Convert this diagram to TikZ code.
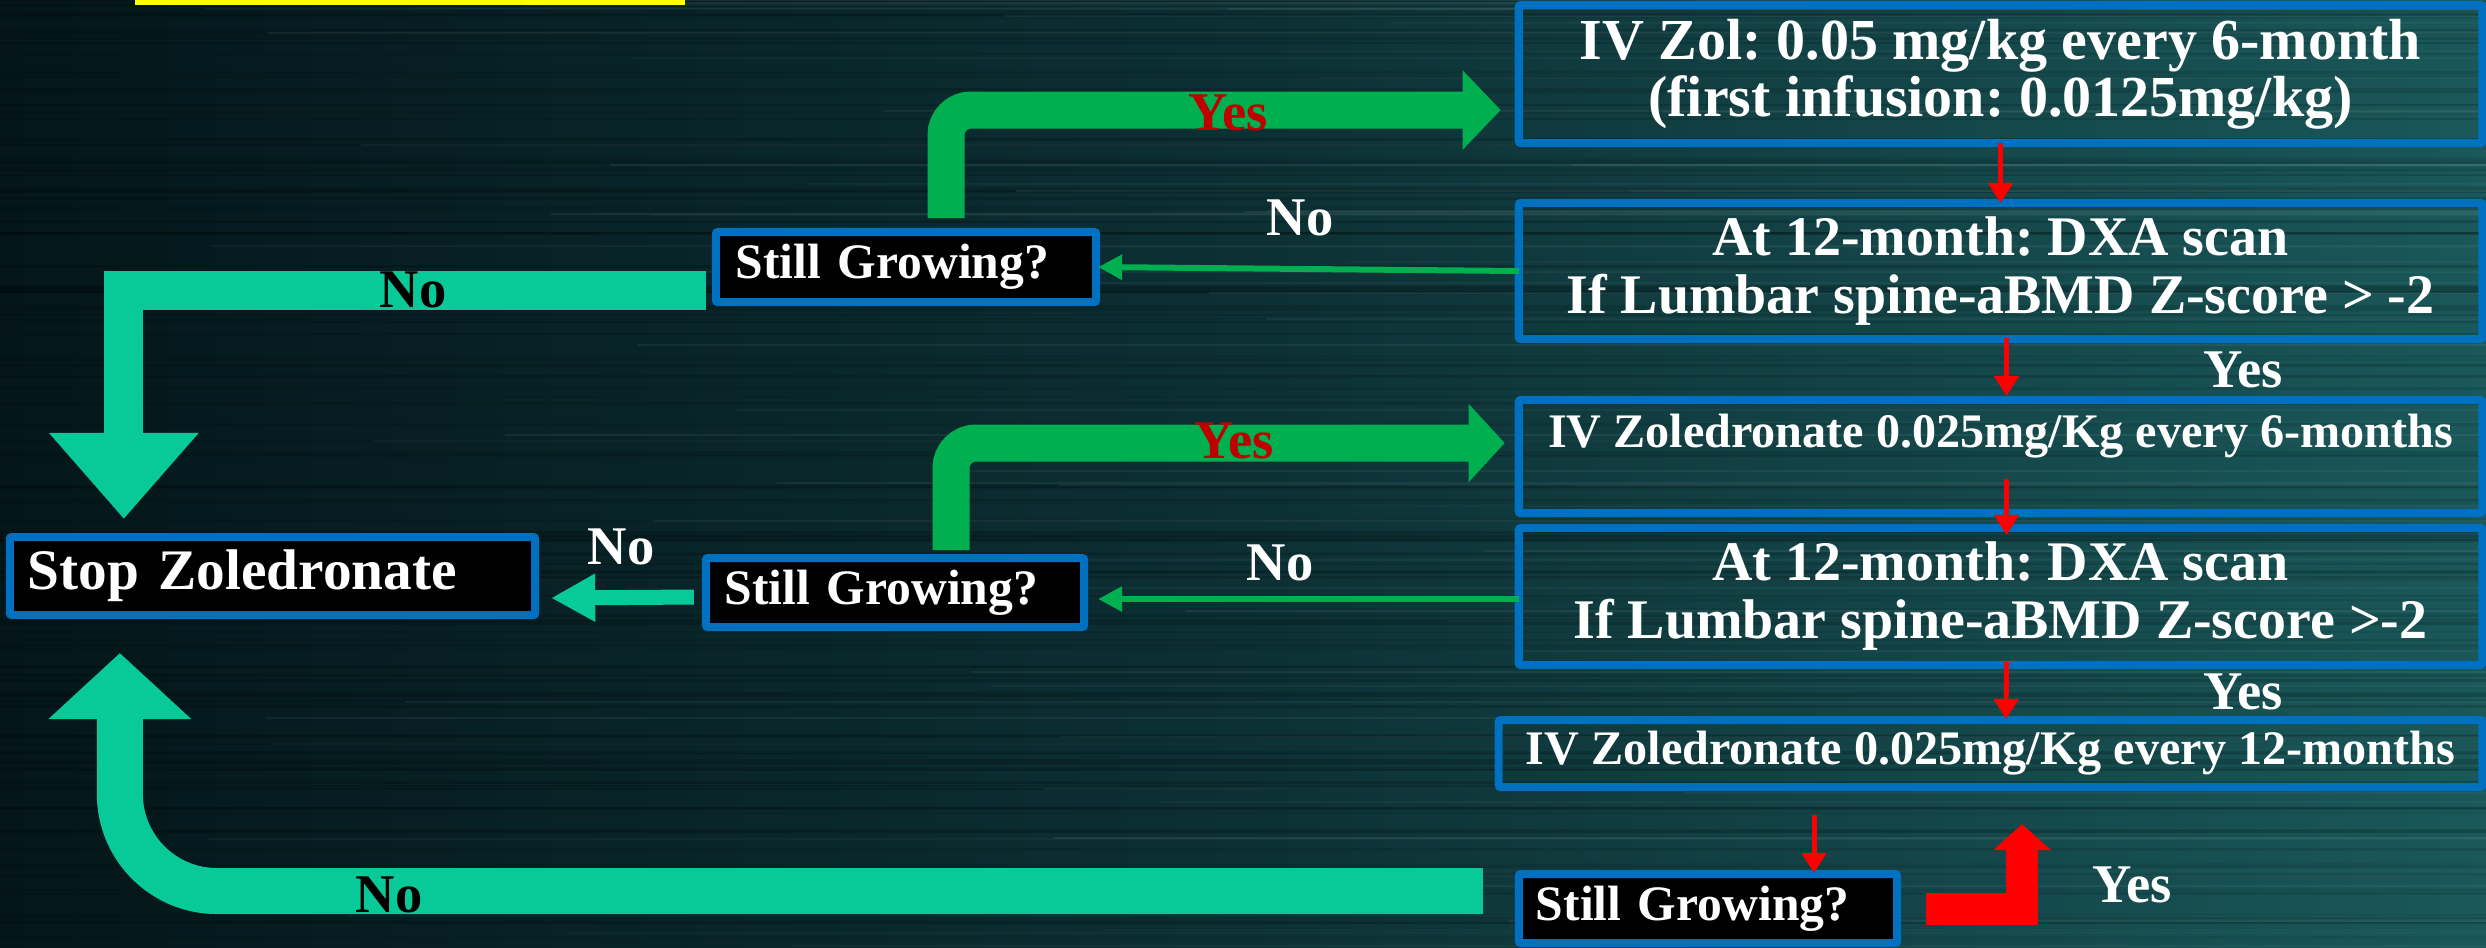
\documentclass[tikz,border=0pt]{standalone}
\usepackage{fontspec}
\setmainfont{Liberation Serif}
\usetikzlibrary{arrows.meta}
\definecolor{bluebd}{RGB}{0,112,192}
\definecolor{yesgreen}{RGB}{0,176,80}
\definecolor{noteal}{RGB}{8,202,152}
\definecolor{darkred}{RGB}{192,0,0}
\definecolor{bgleft}{RGB}{4,22,26}
\definecolor{bgmid}{RGB}{12,48,52}
\definecolor{bgright}{RGB}{26,88,90}
\definecolor{hlyellow}{RGB}{255,255,0}
\frenchspacing
\begin{document}
\begin{tikzpicture}[x=0.01cm,y=-0.01cm,
  flowbox/.style={draw=bluebd, line width=0.08cm, rectangle, rounded corners=0.02cm,
    inner sep=0pt, outer sep=0pt, text=white},
  qbox/.style={flowbox, fill=black, align=left, minimum height=0.69cm,
    font=\fontsize{14.1}{16}\selectfont\bfseries},
  thinred/.style={draw=red, line width=0.05cm, -{Triangle[width=0.24cm,length=0.2cm]}},
  thingreen/.style={draw=yesgreen, line width=0.06cm, -{Triangle[width=0.24cm,length=0.24cm]}},
  lbl/.style={font=\fontsize{15.5}{18}\selectfont\bfseries, inner sep=0pt, anchor=base},
]
\useasboundingbox (0,0) rectangle (2486,947);
% background
\shade[left color=bgleft, right color=bgright, middle color=bgmid] (0,0) rectangle (2486,947);
\pgfmathsetseed{11}
\foreach \i in {1,...,140}{
  \pgfmathsetmacro{\yy}{rnd*947}
  \pgfmathsetmacro{\op}{0.05+rnd*0.12}
  \draw[black, opacity=\op, line width=0.025cm] (0,\yy) -- (2486,\yy);
}
\foreach \i in {1,...,70}{
  \pgfmathsetmacro{\yy}{rnd*947}
  \pgfmathsetmacro{\xs}{200+rnd*1500}
  \pgfmathsetmacro{\op}{0.02+rnd*0.05}
  \draw[white, opacity=\op, line width=0.02cm] (\xs,\yy) -- (2486,\yy);
}
\fill[hlyellow] (135,0) rectangle (685,5);

% boxes
\node[flowbox, minimum width=9.63cm, minimum height=1.38cm, align=center,
  font=\fontsize{16.5}{16.2}\selectfont\bfseries] (b1) at (2000.5,74)
  {IV Zol: 0.05 mg/kg every 6-month\\(first infusion: 0.0125mg/kg)};
\node[flowbox, minimum width=9.63cm, minimum height=1.36cm, align=center,
  font=\fontsize{15.9}{16.5}\selectfont\bfseries] (b2) at (2000.5,271)
  {At 12-month: DXA scan\\If Lumbar spine-aBMD Z-score > -2};
\node[flowbox, minimum width=9.63cm, minimum height=1.13cm, text height=0.36cm, text depth=0.55cm,
  font=\fontsize{13.7}{16}\selectfont\bfseries] (b3) at (2000.5,456.5)
  {IV Zoledronate 0.025mg/Kg every 6-months};
\node[flowbox, minimum width=9.63cm, minimum height=1.37cm, align=center,
  font=\fontsize{15.9}{16.5}\selectfont\bfseries] (b4) at (2000.5,596.5)
  {At 12-month: DXA scan\\If Lumbar spine-aBMD Z-score >-2};
\node[flowbox, minimum width=9.83cm, minimum height=0.67cm,
  font=\fontsize{13.7}{16}\selectfont\bfseries] (b5) at (1990.5,753.5)
  {IV Zoledronate 0.025mg/Kg every 12-months};
\node[qbox, inner xsep=0.2cm, text width=3.40cm, minimum height=0.70cm] (sg1) at (906,267) {Still Growing?};
\node[qbox, inner xsep=0.19cm, text width=3.40cm] (sg2) at (895,592.5) {Still Growing?};
\node[qbox, inner xsep=0.17cm, text width=3.44cm] (sg3) at (1708,908.5) {Still Growing?};
\node[qbox, inner xsep=0.18cm, text width=4.89cm, minimum height=0.78cm,
  font=\fontsize{16.3}{18}\selectfont\bfseries] (stop) at (272.5,576) {Stop Zoledronate};

% fat arrows
\draw[yesgreen, line width=0.37cm, rounded corners=0.25cm, -{Triangle[width=0.77cm,length=0.38cm]}]
  ([shift={(40,-14)}]sg1.north) |- ([shift={(-18,36)}]b1.west);
\draw[yesgreen, line width=0.37cm, rounded corners=0.25cm, -{Triangle[width=0.76cm,length=0.36cm]}]
  ([shift={(56,-8)}]sg2.north) |- ([shift={(-14,-13.5)}]b3.west);
\draw[noteal, line width=0.39cm, line join=miter, -{Triangle[width=1.44cm,length=0.86cm]}]
  ([shift={(-10,23)}]sg1.west) -| ([shift={(114,-18)}]stop.north west);
\draw[noteal, line width=0.46cm, rounded corners=0.97cm, -{Triangle[width=1.39cm,length=0.66cm]}]
  ([shift={(-36,-17.5)}]sg3.west) -| ([shift={(110,38)}]stop.south west);
\draw[noteal, line width=0.15cm, -{Triangle[width=0.45cm,length=0.44cm]}]
  ([shift={(-12,4.5)}]sg2.west) -- ([shift={(16,22)}]stop.east);
\draw[red, line width=0.32cm, line join=miter, -{Triangle[width=0.56cm,length=0.26cm]}]
  ([shift={(29,0)}]sg3.east) -| ([shift={(31.5,37)}]b5.south);

% thin arrows
\draw[thingreen] (b2.west) -- ([shift={(2,0)}]sg1.east);
\draw[thingreen] ([shift={(0,2.5)}]b4.west) -- ([shift={(14,6.5)}]sg2.east);
\draw[thinred] (b1.south) -- (b2.north);
\draw[thinred] ([shift={(6,-1)}]b2.south) -- ([shift={(6,-4)}]b3.north);
\draw[thinred] ([shift={(6,-34)}]b3.south) -- ([shift={(6,7)}]b4.north);
\draw[thinred] ([shift={(6,-3)}]b4.south) -- ([shift={(15.5,-1)}]b5.north);
\draw[thinred] ([shift={(-176.5,28)}]b5.south) -- ([shift={(106,-1)}]sg3.north);

% labels
\node[lbl, text=darkred] (yes1) at (1228,130) {Yes};
\node[lbl, text=darkred] (yes2) at (1234,458) {Yes};
\node[lbl, text=white] (no1) at (1300,235) {No};
\node[lbl, text=white] (yes3) at (2243,387) {Yes};
\node[lbl, text=white] (no2) at (621,564) {No};
\node[lbl, text=white] (no3) at (1280,580) {No};
\node[lbl, text=white] (yes4) at (2243,709) {Yes};
\node[lbl, text=white] (yes5) at (2132,902) {Yes};
\node[lbl, text=black] (no4) at (413,307) {No};
\node[lbl, text=black] (no5) at (389,912) {No};
\end{tikzpicture}
\end{document}
